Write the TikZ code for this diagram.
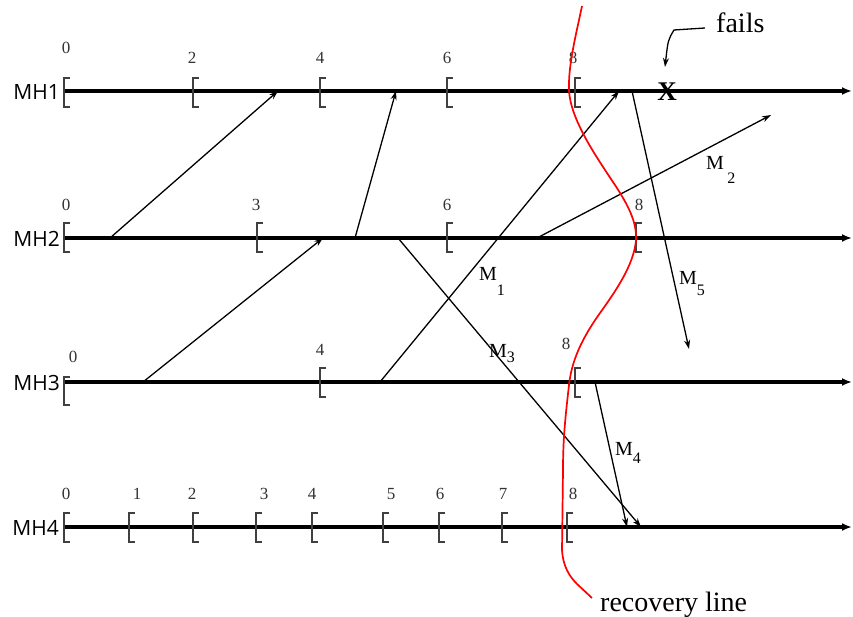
\documentclass[tikz,border=0pt]{standalone}
\usepackage{fontspec}
\setmainfont{Liberation Serif}
\newfontfamily\mhfont{Open Sans}
\usetikzlibrary{arrows.meta}
\begin{document}
\begin{tikzpicture}[x=1pt,y=-1pt,
  timeline/.style={line width=3.4pt,-{Latex[length=10pt,width=8pt]}},
  msg/.style={line width=1.3pt,-{Stealth[length=9pt,width=6pt]}},
  brk/.style={draw=black!75,line width=1.8pt},
  num/.style={font=\fontsize{17}{17}\selectfont,text=black!80,inner sep=0pt},
  mh/.style={font=\mhfont\fontsize{21}{21}\selectfont,anchor=east,inner sep=0pt},
  mlab/.style={font=\fontsize{20}{20}\selectfont,inner sep=0pt,anchor=base west},
  big/.style={font=\fontsize{28}{28}\selectfont,inner sep=0pt}]
\useasboundingbox (0,0) rectangle (853,617);
% process names
\node[mh] (mh1) at (60,92) {MH1};
\node[mh] (mh2) at (60,239) {MH2};
\node[mh] (mh3) at (60,383) {MH3};
\node[mh] (mh4) at (59,528) {MH4};
% timelines
\coordinate (s1) at (64,91); \coordinate (e1) at (852,91);
\coordinate (s2) at (64,238); \coordinate (e2) at (852,238);
\coordinate (s3) at (64,382); \coordinate (e3) at (852,382);
\coordinate (s4) at (64,527); \coordinate (e4) at (852,527);
\draw[timeline] (s1) -- (e1);
\draw[timeline] (s2) -- (e2);
\draw[timeline] (s3) -- (e3);
\draw[timeline] (s4) -- (e4);
% brackets: \brak{x}{ytop}{ybot}
\newcommand{\brak}[3]{\draw[brk] (#1+6,#2) -- (#1,#2) -- (#1,#3) -- (#1+6,#3);}
% MH1
\brak{64}{78}{107}\brak{193}{78}{107}\brak{320}{78}{107}\brak{447}{78}{107}\brak{575}{78}{107}
\node[num] (n10) at (66,48) {0};
\node[num] (n12) at (192,58) {2};
\node[num] (n14) at (320,58) {4};
\node[num] (n16) at (447,58) {6};
\node[num] (n18) at (573,58) {8};
% MH2
\brak{64}{223}{252}\brak{257}{223}{252}\brak{447}{223}{252}\brak{636}{223}{252}
\node[num] (n20) at (66,205) {0};
\node[num] (n23) at (256,205) {3};
\node[num] (n26) at (447,205) {6};
\node[num] (n28) at (639,205) {8};
% MH3
\brak{64}{377}{405}\brak{320}{368}{397}\brak{575}{368}{397}
\node[num] (n30) at (73,357) {0};
\node[num] (n34) at (320,350) {4};
\node[num] (n38) at (566,344) {8};
% MH4
\brak{64}{513}{542}\brak{129}{513}{542}\brak{193}{513}{542}\brak{256}{513}{542}
\brak{312}{513}{542}\brak{383}{513}{542}\brak{439}{513}{542}\brak{502}{513}{542}\brak{567}{513}{542}
\node[num] (n40) at (66,494) {0};
\node[num] (n41) at (137,494) {1};
\node[num] (n42) at (192,494) {2};
\node[num] (n43) at (264,494) {3};
\node[num] (n44) at (312,494) {4};
\node[num] (n45) at (391,494) {5};
\node[num] (n46) at (440,494) {6};
\node[num] (n47) at (503,494) {7};
\node[num] (n48) at (573,494) {8};
% message endpoints
\coordinate (a1) at (110,238); \coordinate (b1) at (278,91);
\coordinate (a2) at (355,238); \coordinate (b2) at (396,91);
\coordinate (a3) at (143,382); \coordinate (b3) at (323,238);
\coordinate (a4) at (380,382); \coordinate (b4) at (619,91);
\coordinate (a5) at (537,238); \coordinate (b5) at (771,115);
\coordinate (a6) at (398,238); \coordinate (b6) at (641,527);
\coordinate (a7) at (632,91);  \coordinate (b7) at (689,349);
\coordinate (a8) at (595,382); \coordinate (b8) at (627,527);
\draw[msg] (a1) -- (b1);
\draw[msg] (a2) -- (b2);
\draw[msg] (a3) -- (b3);
\draw[msg] (a4) -- (b4);
\draw[msg] (a5) -- (b5);
\draw[msg] (a6) -- (b6);
\draw[msg] (a7) -- (b7);
\draw[msg] (a8) -- (b8);
% message labels
\node[mlab] (m1) at (479,281) {M\raisebox{-14pt}{\fontsize{16}{16}\selectfont 1}};
\node[mlab] (m2) at (706,170) {M\raisebox{-14pt}{\,\fontsize{16}{16}\selectfont 2}};
\node[mlab] (m3) at (489,357) {M\raisebox{-5pt}{\fontsize{16}{16}\selectfont 3}};
\node[mlab] (m4) at (615,455) {M\raisebox{-8pt}{\fontsize{16}{16}\selectfont 4}};
\node[mlab] (m5) at (679,285) {M\raisebox{-10pt}{\fontsize{16}{16}\selectfont 5}};
% failure
\node[big,font=\bfseries\fontsize{27}{27}\selectfont] (x) at (667,92) {X};
\node[big,anchor=base west] (fails) at (716,33) {fails};
\coordinate (fs) at (705,28);
\coordinate (fe) at (665,67);
\draw[line width=1.3pt,-{Stealth[length=9pt,width=6pt]}] (fs) -- (674,30) .. controls (668,40) .. (fe);
% recovery line
\coordinate (rtop) at (582,6);
\coordinate (rl) at (592,598);
\draw[red,line width=1.7pt] (rtop)
  .. controls (576,35) and (568,65) .. (569,91)
  .. controls (571,120) and (595,155) .. (615,185)
  .. controls (628,205) and (637,222) .. (636,240)
  .. controls (634,265) and (615,292) .. (600,313)
  .. controls (588,330) and (572,355) .. (569,385)
  .. controls (565,420) and (563,440) .. (563,470)
  -- (562,550)
  .. controls (563,566) and (569,576) .. (577,584) -- (rl);
\node[big,anchor=base west] (rec) at (600,611) {recovery line};
\end{tikzpicture}
\end{document}
